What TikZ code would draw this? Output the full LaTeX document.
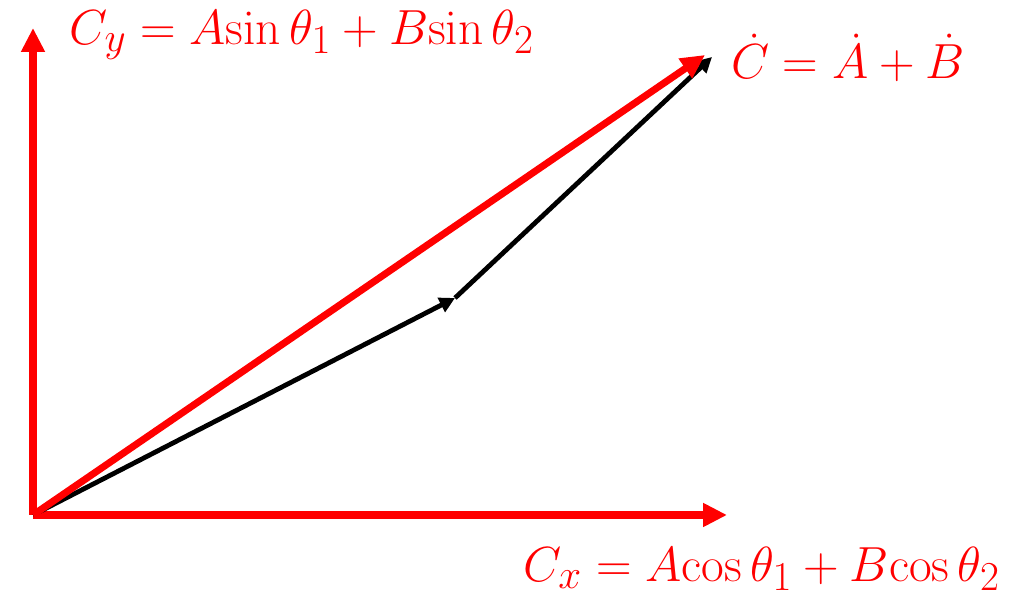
\documentclass[tikz,border=0pt]{standalone}
\usepackage{amsmath}
\usepackage{xcolor}
\definecolor{VecRed}{rgb}{1, 0, 0}
\definecolor{VecBlack}{rgb}{0, 0, 0}
\usetikzlibrary{arrows.meta}

\begin{document}
\begin{tikzpicture}[x=0.025cm, y=0.025cm,
    font=\fontsize{24.88}{30}\selectfont,
    redvec/.style={VecRed, line width=5pt, -{Triangle[length=17pt, width=16pt]}},
    blackvec/.style={VecBlack, line width=3.4pt, -{Triangle[length=11pt, width=11pt]}},
    eqlabel/.style={text=VecRed, inner sep=0pt, scale=1.41}]

    \useasboundingbox (0,0) rectangle (1025,596);

    % 1. THE POINTS
    % origin, axis tips and the two vector tips
    \coordinate (O) at (33, 81);
    \coordinate (ytip) at (33, 568);
    \coordinate (xtip) at (727, 81);
    \coordinate (Ctip) at (705, 541);
    \coordinate (Atip) at (455, 298);
    \coordinate (Btip) at (712, 539);

    % 2. THE COMPONENTS (axes) -> VecRed
    \draw[redvec] (O) -- (xtip);
    \draw[redvec] (O) -- (ytip);

    % 3. THE SUM A + B -> VecBlack
    \draw[blackvec] (O) -- (Atip);
    \draw[blackvec] (Atip) -- (Btip);

    % 4. THE RESULTANT C -> VecRed
    \draw[redvec] (O) -- (Ctip);

    % 5. THE LABELS
    \node[eqlabel] (Cy) at (302, 561) {$C_y = A\mathrm{sin}\,\theta_1 + B\mathrm{sin}\,\theta_2$};
    \node[eqlabel] (Cdot) at (848, 538) {$\dot{C} = \dot{A} + \dot{B}$};
    \node[eqlabel] (Cx) at (762, 27) {$C_x = A\mathrm{cos}\,\theta_1 + B\mathrm{cos}\,\theta_2$};

\end{tikzpicture}
\end{document}
